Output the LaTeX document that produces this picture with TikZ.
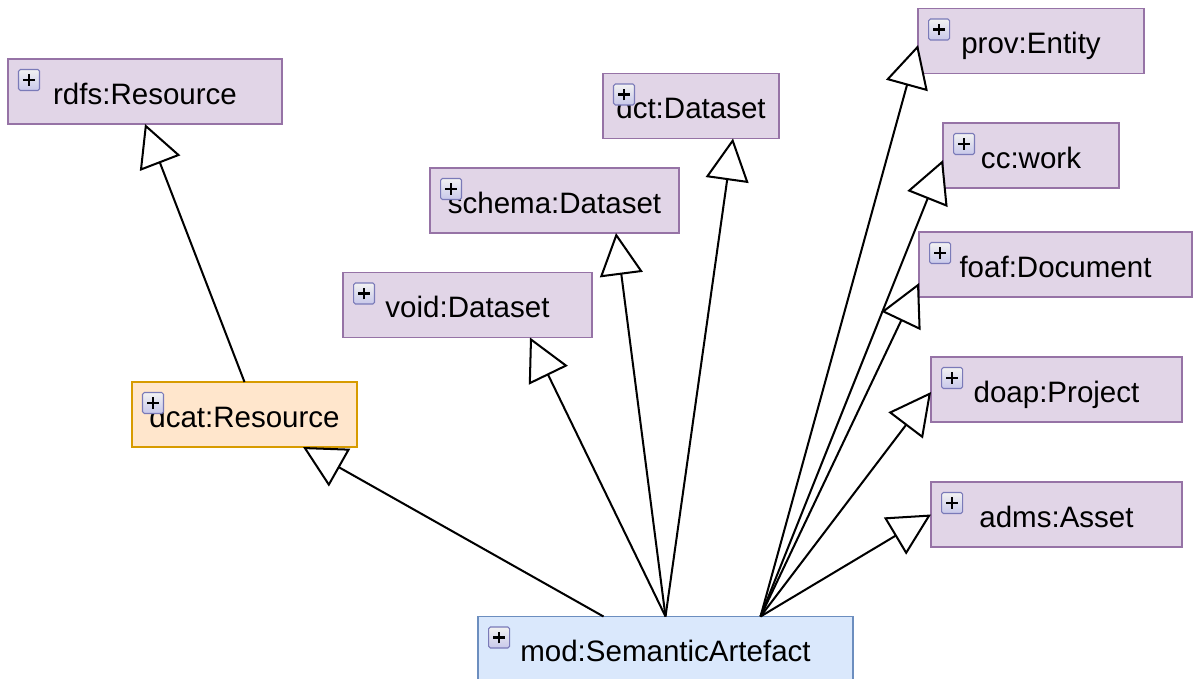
\documentclass[tikz,border=0pt]{standalone}
\usepackage{fontspec}
\setmainfont{Liberation Sans}
\usepackage{xcolor}
\definecolor{classfill}{HTML}{E1D5E7}
\definecolor{classline}{HTML}{9673A6}
\definecolor{dcatfill}{HTML}{FFE6CC}
\definecolor{dcatline}{HTML}{D79B00}
\definecolor{modfill}{HTML}{DAE8FC}
\definecolor{modline}{HTML}{6C8EBF}
\usetikzlibrary{positioning}
\usetikzlibrary{arrows.meta}
\usetikzlibrary{calc}

\begin{document}
\begin{tikzpicture}[x=0.02cm,y=-0.02cm,every node/.style={inner sep=0,outer sep=0,font=\fontsize{16.8}{20}\selectfont},
	class/.style={draw=classline,fill=classfill,line width=0.9pt,minimum height=1.3cm,text height=14.3pt,text depth=0pt},
	dcatclass/.style={class,draw=dcatline,fill=dcatfill},
	modclass/.style={class,draw=modline,fill=modfill},
	plusbox/.style={draw=gray!70!blue!80,top color=gray!10,bottom color=gray!55!blue!30,rounded corners=1pt,minimum size=0.42cm,line width=0.6pt,
		path picture={\draw[black,line width=1.5pt]
			([xshift=-3.4pt]path picture bounding box.center) -- ([xshift=3.4pt]path picture bounding box.center)
			([yshift=-3.4pt]path picture bounding box.center) -- ([yshift=3.4pt]path picture bounding box.center);}},
	isa/.style={-{Triangle[fill=white,length=0.84cm,width=0.86cm]},line width=1.15pt}]
	\useasboundingbox (0,0) rectangle (1193,679);
	\fill[white] (0,0) rectangle (1193,679);
	\node[class,minimum width=5.48cm] (rdfs) at (145,91.5) {rdfs:Resource};
	\node[class,minimum width=3.52cm] (dct) at (691,106) {dct:Dataset};
	\node[class,minimum width=4.98cm] (schema) at (554.5,200.5) {schema:Dataset};
	\node[class,minimum width=4.98cm] (void) at (467.5,305) {void:Dataset};
	\node[dcatclass,minimum width=4.5cm] (dcat) at (244.5,414.5) {dcat:Resource};
	\node[modclass,minimum width=7.5cm] (mod) at (665.5,649) {mod:SemanticArtefact};
	\node[class,minimum width=4.52cm] (prov) at (1031,41) {prov:Entity};
	\node[class,minimum width=3.52cm] (cc) at (1031,155.5) {cc:work};
	\node[class,minimum width=5.46cm] (foaf) at (1055.5,264.5) {foaf:Document};
	\node[class,minimum width=5.02cm] (doap) at (1056.5,389.5) {doap:Project};
	\node[class,minimum width=5.02cm] (adms) at (1056.5,514.5) {adms:Asset};
	% expand buttons
	\foreach \n in {rdfs,dct,schema,void,dcat,mod,prov,cc,foaf,doap,adms}
		\node[plusbox,below right=0.21cm and 0.21cm of \n.north west] (\n-plus) {};
	% subclass links
	\draw[isa] (dcat.north) -- (rdfs.south);
	\draw[isa] ($(mod.north)+(-62,0)$) -- ($(dcat.south)+(58.5,0)$);
	\draw[isa] (mod.north) -- ($(void.south)+(62.5,0)$);
	\draw[isa] (mod.north) -- ($(schema.south)+(61.5,0)$);
	\draw[isa] (mod.north) -- ($(dct.south)+(42,0)$);
	\draw[isa] ($(mod.north)+(95,0)$) -- ($(prov.west)+(0,4)$);
	\draw[isa] ($(mod.north)+(95,0)$) -- ($(cc.west)+(0,4.5)$);
	\draw[isa] ($(mod.north)+(95,0)$) -- ($(foaf.west)+(0,18.5)$);
	\draw[isa] ($(mod.north)+(95,0)$) -- ($(doap.west)+(0,2.5)$);
	\draw[isa] ($(mod.north)+(95,0)$) -- (adms.west);
\end{tikzpicture}
\end{document}
